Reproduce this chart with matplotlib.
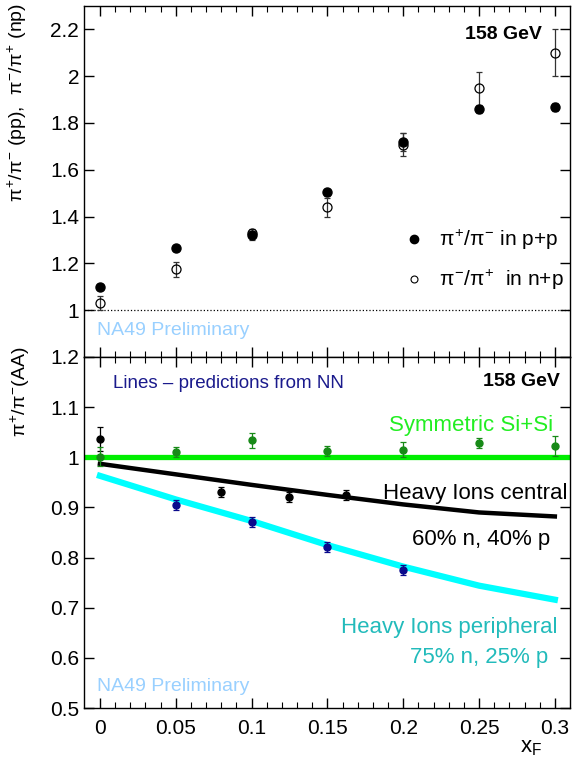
import matplotlib
matplotlib.use('Agg')
import matplotlib.pyplot as plt
from matplotlib.lines import Line2D
import numpy as np

plt.rcParams['font.family'] = ['Liberation Sans', 'DejaVu Sans']
plt.rcParams['mathtext.fontset'] = 'custom'
plt.rcParams['mathtext.rm'] = 'Liberation Sans'
plt.rcParams['mathtext.it'] = 'Liberation Sans'
plt.rcParams['mathtext.bf'] = 'Liberation Sans:bold'

# ---- top panel: p+p and n+p ratios ----
xf_pp = [0.0, 0.05, 0.1, 0.15, 0.2, 0.25, 0.3]
ratio_pp = [1.10, 1.264, 1.32, 1.503, 1.719, 1.859, 1.869]
err_pp = [0.012, 0.012, 0.018, 0.015, 0.04, 0.015, 0.016]

xf_np = [0.0, 0.05, 0.1, 0.15, 0.2, 0.25, 0.3]
ratio_np = [1.029, 1.174, 1.328, 1.439, 1.708, 1.949, 2.10]
err_np = [0.03, 0.031, 0.02, 0.04, 0.05, 0.07, 0.10]

# ---- bottom panel: A+A ratios ----
xf_si = [0.0, 0.05, 0.1, 0.15, 0.2, 0.25, 0.3]
ratio_si = [1.001, 1.011, 1.034, 1.0125, 1.0146, 1.028, 1.0225]
err_si = [0.019, 0.01, 0.015, 0.01, 0.015, 0.01, 0.02]

xf_cen = [0.0, 0.08, 0.125, 0.1625]
ratio_cen = [1.036, 0.931, 0.921, 0.9255]
err_cen = [0.024, 0.01, 0.01, 0.01]

xf_per = [0.05, 0.1, 0.15, 0.2]
ratio_per = [0.9056, 0.8705, 0.8207, 0.7755]
err_per = [0.01, 0.01, 0.01, 0.01]

# NN predictions
xf_line = [0.0, 0.05, 0.1, 0.15, 0.2, 0.25, 0.3]
pred_sym = [1.0, 1.0, 1.0, 1.0, 1.0, 1.0, 1.0]
pred_cen = [0.987, 0.966, 0.945, 0.925, 0.906, 0.890, 0.882]
pred_per = [0.963, 0.916, 0.873, 0.825, 0.782, 0.744, 0.716]

fig = plt.figure(figsize=(5.73, 7.71), dpi=100)
W, H = 573, 771
L, R = 84, 570
ax1 = fig.add_axes([L / W, 1 - 357 / H, (R - L) / W, (357 - 6) / H])
ax2 = fig.add_axes([L / W, 1 - 708 / H, (R - L) / W, (708 - 357) / H])

for ax in (ax1, ax2):
    ax.set_xlim(-0.0105, 0.31)
    ax.set_xticks(np.arange(0, 0.31, 0.05))
    ax.set_xticks(np.arange(0, 0.31, 0.01), minor=True)
    ax.tick_params(which='both', direction='in', top=True, right=True, labelsize=15)
    ax.tick_params(which='major', length=7, width=1)
    ax.tick_params(which='minor', length=4, width=0.8)
    for s in ax.spines.values():
        s.set_linewidth(1.0)

# top
ax1.set_ylim(0.8, 2.3)
ax1.set_yticks([1.0, 1.2, 1.4, 1.6, 1.8, 2.0, 2.2])
ax1.set_yticklabels(['1', '1.2', '1.4', '1.6', '1.8', '2', '2.2'])
ax1.tick_params(axis='x', labelbottom=False)
ax1.axhline(1.0, ls=':', color='black', lw=0.9)
ax1.errorbar(xf_np, ratio_np, yerr=err_np, fmt='o', mfc='none', mec='black', ms=6.5,
             mew=0.9, color='#333333', elinewidth=0.9, capsize=2.5, capthick=0.9)
ax1.errorbar(xf_pp, ratio_pp, yerr=err_pp, fmt='o', mfc='black', mec='black', ms=6.5,
             color='#333333', elinewidth=0.9, capsize=2.5, capthick=0.9)
ax1.text(0.942, 0.92, '158 GeV', transform=ax1.transAxes, ha='right', va='center',
         fontsize=14, fontweight='bold')
ax1.text(0.027, 0.075, 'NA49 Preliminary', transform=ax1.transAxes, ha='left', va='center',
         fontsize=14, color='#99d0ff')
handles = [Line2D([], [], ls='none', marker='o', mfc='black', mec='black', ms=6),
           Line2D([], [], ls='none', marker='o', mfc='none', mec='black', ms=5, mew=0.8)]
ax1.legend(handles, [r'$\pi^{+}/\pi^{-}$ in p+p', r'$\pi^{-}/\pi^{+}$  in n+p'],
           loc='upper left', bbox_to_anchor=(0.62, 0.42), frameon=False, fontsize=15,
           handlelength=1.0, handletextpad=0.66, labelspacing=0.75)

# bottom
ax2.set_ylim(0.5, 1.2)
ax2.set_yticks([0.5, 0.6, 0.7, 0.8, 0.9, 1.0, 1.1, 1.2])
ax2.set_yticklabels(['0.5', '0.6', '0.7', '0.8', '0.9', '1', '1.1', '1.2'])
ax2.set_xticklabels(['0', '0.05', '0.1', '0.15', '0.2', '0.25', '0.3'])
ax2.tick_params(axis='x', pad=8)

ax2.axhline(pred_sym[0], color='#00ee00', lw=3.8, zorder=2)
ax2.plot(xf_line, pred_cen, color='black', lw=3.2, zorder=2)
ax2.plot(xf_line, pred_per, color='#00ffff', lw=4.5, zorder=2)

ax2.errorbar(xf_cen, ratio_cen, yerr=err_cen, fmt='o', color='black', ms=5,
             elinewidth=0.9, capsize=2.5, capthick=0.9, zorder=3)
ax2.errorbar(xf_si, ratio_si, yerr=err_si, fmt='o', color='#178a17', ms=5,
             elinewidth=0.9, capsize=2.5, capthick=0.9, zorder=3)
ax2.errorbar(xf_per, ratio_per, yerr=err_per, fmt='o', color='#0a0a8c', ms=5,
             elinewidth=0.9, capsize=2.5, capthick=0.9, zorder=3)

ax2.text(0.06, 0.925, 'Lines \u2013 predictions from NN', transform=ax2.transAxes,
         fontsize=13.5, color='#1a1a8c', ha='left', va='center')
ax2.text(0.98, 0.93, '158 GeV', transform=ax2.transAxes, ha='right', va='center',
         fontsize=14, fontweight='bold')
ax2.text(0.965, 0.805, 'Symmetric Si+Si', transform=ax2.transAxes, ha='right', va='center',
         fontsize=16, color='#22ee22')
ax2.text(0.995, 0.61, 'Heavy Ions central', transform=ax2.transAxes, ha='right', va='center',
         fontsize=16, color='black')
ax2.text(0.96, 0.48, '60% n, 40% p', transform=ax2.transAxes, ha='right', va='center',
         fontsize=16, color='black')
ax2.text(0.975, 0.23, 'Heavy Ions peripheral', transform=ax2.transAxes, ha='right', va='center',
         fontsize=16, color='#22bbbb')
ax2.text(0.955, 0.145, '75% n, 25% p', transform=ax2.transAxes, ha='right', va='center',
         fontsize=16, color='#22bbbb')
ax2.text(0.027, 0.06, 'NA49 Preliminary', transform=ax2.transAxes, ha='left', va='center',
         fontsize=14, color='#99d0ff')

# axis titles
fig.text(17 / W, 1 - 3 / H, r'$\pi^{+}/\pi^{-}$ (pp),  $\pi^{-}/\pi^{+}$ (np)', rotation=90,
         ha='center', va='top', fontsize=14)
fig.text(20 / W, 1 - 346 / H, r'$\pi^{+}/\pi^{-}$(AA)', rotation=90,
         ha='center', va='top', fontsize=14)
fig.text(531 / W, 1 - 748 / H, r'x$_{\rm F}$', ha='center', va='center', fontsize=16)

fig.savefig('out.png', dpi=100)
